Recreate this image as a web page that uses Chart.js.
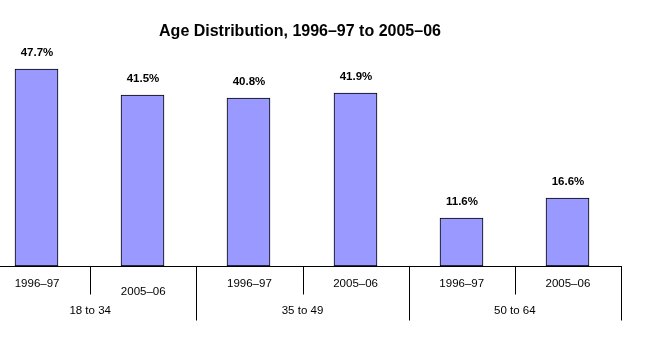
<!DOCTYPE html>
<html>
<head>
<meta charset="utf-8">
<script src="https://cdn.jsdelivr.net/npm/chart.js@4"></script>
<style>
html,body{margin:0;padding:0;background:#fff;overflow:hidden;width:646px;height:354px;}
#wrap{position:absolute;left:-16px;top:0;width:662px;height:354px;}
</style>
</head>
<body>
<div id="wrap"><canvas id="c" width="662" height="354"></canvas></div>
<script>
const title = 'Age Distribution, 1996–97 to 2005–06';
const groups = ['18 to 34', '35 to 49', '50 to 64'];
const periods = ['1996–97', '2005–06', '1996–97', '2005–06', '1996–97', '2005–06'];
const values = [47.7, 41.5, 40.8, 41.9, 11.6, 16.6];

const FONT = '"Liberation Sans", Arial, sans-serif';

const snap = {
  id: 'snap',
  beforeDatasetsDraw(chart) {
    chart.getDatasetMeta(0).data.forEach(b => {
      b.x = Math.round(b.x) - 0.5;
      b.y = Math.round(b.y);
      b.base = Math.round(b.base);
    });
  }
};

const overlay = {
  id: 'overlay',
  afterDatasetsDraw(chart) {
    const ctx = chart.ctx;
    const xs = chart.scales.x;
    const area = chart.chartArea;
    const n = periods.length;
    const w = (xs.right - xs.left) / n;
    const base = Math.round(area.bottom) + 0.5;
    ctx.save();
    // title
    ctx.fillStyle = '#000';
    ctx.font = 'bold 16px ' + FONT;
    ctx.textAlign = 'center';
    ctx.textBaseline = 'middle';
    ctx.fillText(title, 316, 32);
    // value labels
    ctx.font = 'bold 11.5px ' + FONT;
    const meta = chart.getDatasetMeta(0);
    meta.data.forEach((bar, i) => {
      ctx.fillText(values[i].toFixed(1) + '%', bar.x + 0.5, bar.y - 16.5);
    });
    // axis line and separators
    ctx.strokeStyle = '#000';
    ctx.lineWidth = 1;
    ctx.beginPath();
    ctx.moveTo(xs.left, base);
    ctx.lineTo(Math.round(xs.right) + 1, base);
    for (let i = 0; i <= n; i++) {
      const x = Math.round(xs.left + i * w) + 0.5;
      const long = (i % 2 === 0);
      ctx.moveTo(x, base);
      ctx.lineTo(x, long ? base + 54 : base + 28);
    }
    ctx.stroke();
    // period labels
    ctx.font = '11.5px ' + FONT;
    periods.forEach((p, i) => {
      const x = xs.getPixelForValue(i);
      const y = (i === 1) ? 291.5 : 284;
      ctx.fillText(p, x, y);
    });
    // group labels
    groups.forEach((g, gi) => {
      const x = xs.left + (gi * 2 + 1) * w;
      ctx.fillText(g, x, 311);
    });
    ctx.restore();
  }
};

new Chart(document.getElementById('c'), {
  type: 'bar',
  data: {
    labels: periods,
    datasets: [{
      data: values,
      backgroundColor: '#9999FF',
      borderColor: '#000',
      borderWidth: 1,
      borderSkipped: false,
      barThickness: 43
    }]
  },
  options: {
    responsive: false,
    animation: false,
    layout: { padding: { top: 60, bottom: 88, left: 0, right: 25 } },
    plugins: { legend: { display: false }, tooltip: { enabled: false }, title: { display: false } },
    scales: {
      x: { display: false, offset: true },
      y: { display: false, min: 0, max: 50 }
    }
  },
  plugins: [snap, overlay]
});
</script>
</body>
</html>
